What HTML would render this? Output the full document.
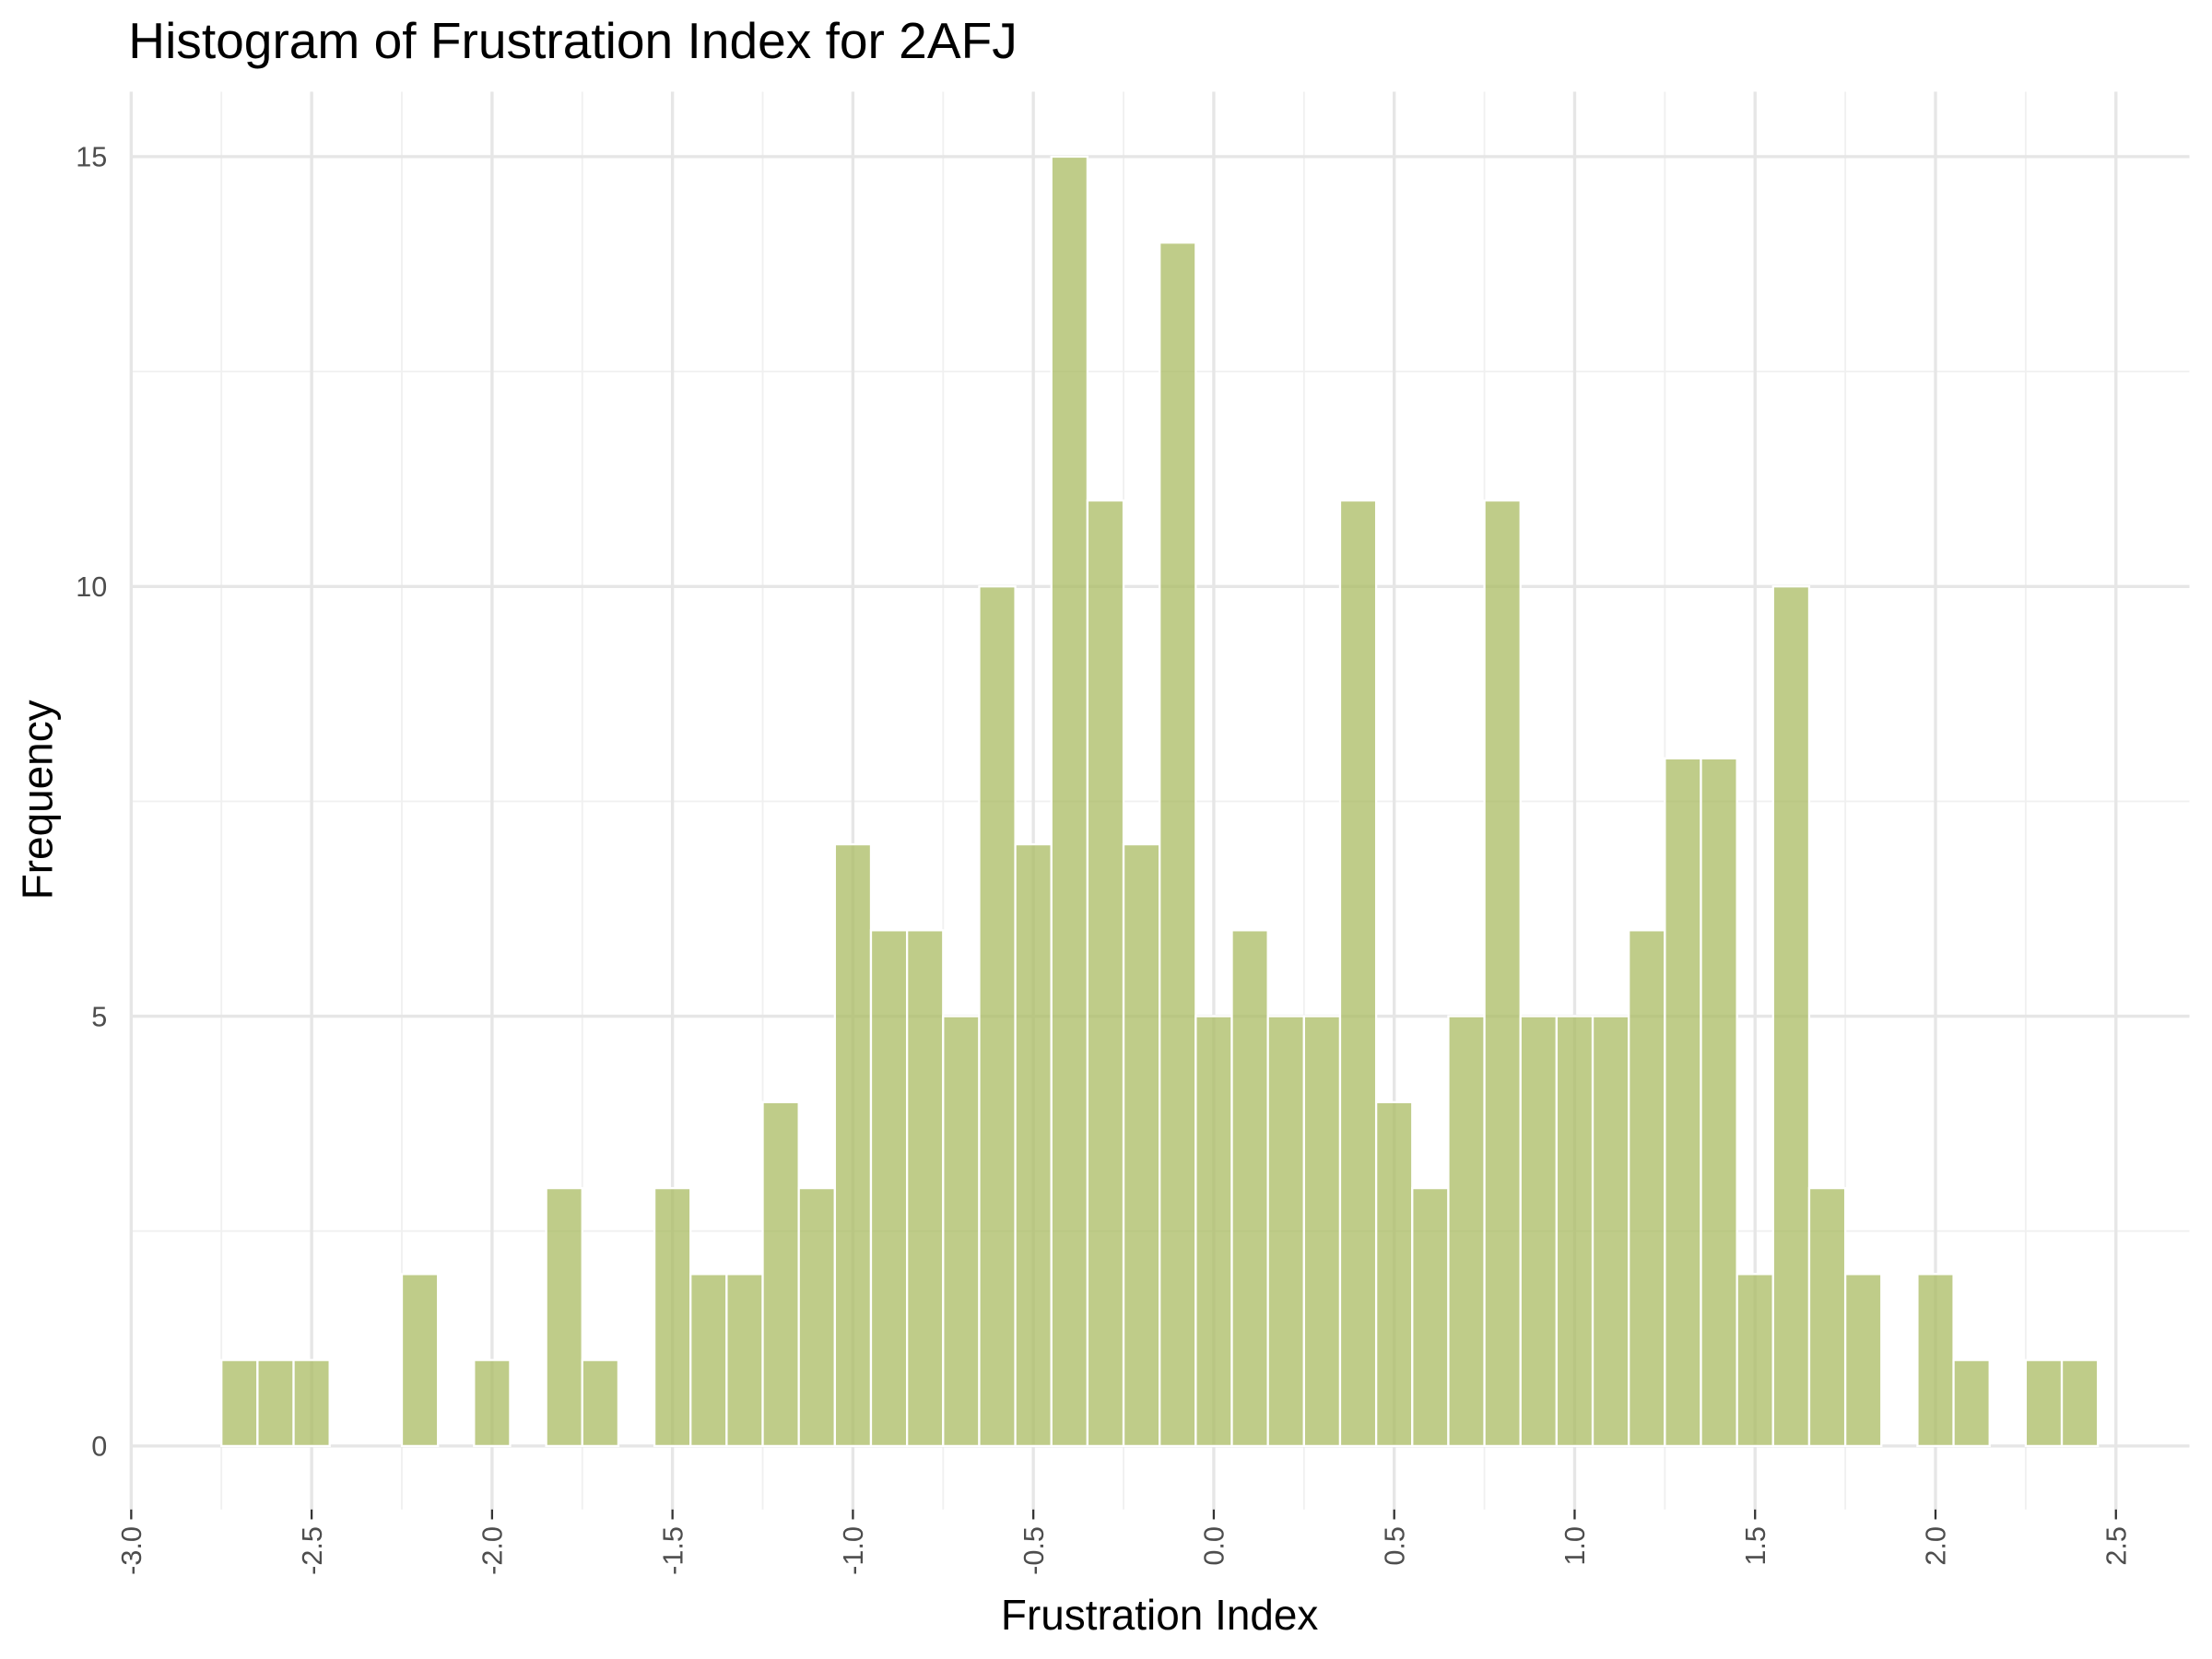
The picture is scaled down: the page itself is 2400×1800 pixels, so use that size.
<!DOCTYPE html>
<html><head><meta charset="utf-8"><style>html,body{margin:0;padding:0;background:#fff}svg{display:block}</style></head>
<body>
<svg id="chart" width="2400" height="1800" viewBox="0 0 1568 1176" xmlns="http://www.w3.org/2000/svg" font-family="Liberation Sans, Arial, sans-serif">
<rect width="1568" height="1176" fill="#fff"/>
<text x="91" y="41" font-size="36" fill="#000">Histogram of Frustration Index for 2AFJ</text>
<g id="grid"></g>
<g id="bars"></g>
<g id="axes"></g>
<text x="822" y="1155" font-size="30" text-anchor="middle" fill="#000">Frustration Index</text>
<text transform="translate(37,567) rotate(-90)" font-size="30" text-anchor="middle" fill="#000">Frequency</text>
<script>
const binStarts = [-2.75,-2.65,-2.55,-2.45,-2.35,-2.25,-2.15,-2.05,-1.95,-1.85,-1.75,-1.65,-1.55,-1.45,-1.35,-1.25,-1.15,-1.05,-0.95,-0.85,-0.75,-0.65,-0.55,-0.45,-0.35,-0.25,-0.15,-0.05,0.05,0.15,0.25,0.35,0.45,0.55,0.65,0.75,0.85,0.95,1.05,1.15,1.25,1.35,1.45,1.55,1.65,1.75,1.85,1.95,2.05,2.15,2.25,2.35];
const counts = [1,1,1,0,0,2,0,1,0,3,1,0,3,2,2,4,3,7,6,6,5,10,7,15,11,7,14,5,6,5,5,11,4,3,5,11,5,5,5,6,8,8,2,10,3,2,0,2,1,0,1,1];
const binWidth = 0.1;
const xTicks = [-3.0,-2.5,-2.0,-1.5,-1.0,-0.5,0.0,0.5,1.0,1.5,2.0,2.5];
const yTicks = [0,5,10,15];
const xMinor = [-2.75,-2.25,-1.75,-1.25,-0.75,-0.25,0.25,0.75,1.25,1.75,2.25];
const yMinor = [2.5,7.5,12.5];

{
const X = v => 93 + (v + 3) * 255.8;
const Y = v => 1025 - v * 60.93;
const NS = 'http://www.w3.org/2000/svg';
function mk(tag, attrs, parent){const e=document.createElementNS(NS,tag);for(const k in attrs)e.setAttribute(k,attrs[k]);parent.appendChild(e);return e;}
const grid=document.getElementById('grid'), bars=document.getElementById('bars'), axes=document.getElementById('axes');
const pTop=65, pBot=1070, pLeft=93, pRight=1552;
xMinor.forEach(v=>{const l=mk('line',{x1:X(v),x2:X(v),y1:pTop,y2:pBot,stroke:'#f0f0f0','stroke-width':1.2},grid);

});
yMinor.forEach(v=>{const l=mk('line',{x1:pLeft,x2:pRight,y1:Y(v),y2:Y(v),stroke:'#f0f0f0','stroke-width':1.2},grid);

});
xTicks.forEach(v=>{const l=mk('line',{x1:X(v),x2:X(v),y1:pTop,y2:pBot,stroke:'#e6e6e6','stroke-width':2.2},grid);


const t=mk('line',{x1:X(v),x2:X(v),y1:pBot,y2:pBot+7,stroke:'#333','stroke-width':1.5},axes);


const tx=mk('text',{transform:`translate(${X(v)+7},${pBot+12}) rotate(-90)`,'font-size':20,'text-anchor':'end',fill:'#4d4d4d'},axes);
tx.textContent=v.toFixed(1);

});
yTicks.forEach(v=>{const l=mk('line',{x1:pLeft,x2:pRight,y1:Y(v),y2:Y(v),stroke:'#e6e6e6','stroke-width':2.2},grid);


const tx=mk('text',{x:76,y:Y(v)+7,'font-size':20,'text-anchor':'end',fill:'#4d4d4d'},axes);
tx.textContent=String(v);

});
binStarts.forEach((s,i)=>{if(counts[i]<=0)return;
const r=mk('rect',{x:X(s),y:Y(counts[i]),width:X(s+binWidth)-X(s),height:Y(0)-Y(counts[i]),fill:'#a9bb62','fill-opacity':0.75,stroke:'#ffffff','stroke-width':1.5},bars);

});
}
</script>
</svg>
</body></html>
